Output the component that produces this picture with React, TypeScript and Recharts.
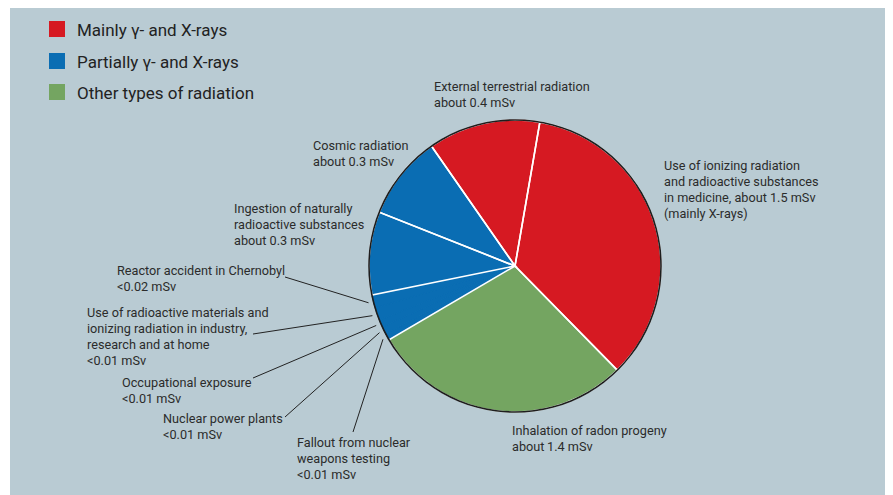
import React from "react";
import { PieChart, Pie, Cell } from "recharts";

// slices, clockwise from the top
const sources = [
    "medicine",
    "radon",
    "fallout",
    "nuclear",
    "occupational",
    "industry",
    "chernobyl",
    "ingestion",
    "cosmic",
    "terrestrial",
];
// share of the circle (%)
const shares = [34.9, 28.9, 0.75, 0.83, 0.83, 1.39, 1.44, 9.2, 9.3, 12.4];
// which legend group each slice belongs to
const groups = [0, 2, 1, 1, 1, 1, 1, 1, 1, 0];
const minor = [false, false, true, true, true, true, true, false, false, false];

const labelTexts = [
    ["Use of ionizing radiation", "and radioactive substances", "in medicine, about 1.5 mSv", "(mainly X-rays)"],
    ["Inhalation of radon progeny", "about\u20091.4 mSv"],
    ["Fallout from nuclear", "weapons testing", "<0.01 mSv"],
    ["Nuclear power plants", "<0.01 mSv"],
    ["Occupational exposure", "<0.01 mSv"],
    ["Use of radioactive materials and", "ionizing radiation in industry,", "research and at home", "<0.01 mSv"],
    ["Reactor accident in Chernobyl", "<0.02 mSv"],
    ["Ingestion of naturally", "radioactive substances", "about 0.3 mSv"],
    ["Cosmic radiation", "about 0.3 mSv"],
    ["External terrestrial radiation", "about 0.4 mSv"],
];

const legendItems = ["Mainly \u03b3- and X-rays", "Partially \u03b3- and X-rays", "Other types of radiation"];
const groupColors = ["#d61922", "#0a6db3", "#74a561"];

// label placement (text left x, first baseline y, optional leader start)
const labelSpots = [
    { x: 654, y: 162 },
    { x: 502, y: 427 },
    { x: 287, y: 439, lx: 343, ly: 424 },
    { x: 153, y: 415, lx: 275, ly: 409 },
    { x: 112, y: 379, lx: 243, ly: 370 },
    { x: 77, y: 309, lx: 243, ly: 326 },
    { x: 107, y: 267, lx: 275, ly: 269 },
    { x: 224, y: 205 },
    { x: 303, y: 142 },
    { x: 424, y: 83 },
];

const data = sources.map((name, i) => ({ name, value: shares[i] }));
const FONT = "Roboto, 'Noto Sans', sans-serif";
const RAD = Math.PI / 180;

function renderLabel(props: any) {
    const { cx, cy, midAngle, outerRadius, index } = props;
    const spot: any = labelSpots[index];
    const lines = labelTexts[index];
    let leader = null;
    if (spot.lx !== undefined) {
        const ex = cx + (outerRadius + 5) * Math.cos(-midAngle * RAD);
        const ey = cy + (outerRadius + 5) * Math.sin(-midAngle * RAD);
        leader = <line x1={spot.lx} y1={spot.ly} x2={ex} y2={ey} stroke="#222" strokeWidth={1} />;
    }
    return (
        <g key={"lbl" + index}>
            <text x={spot.x} y={spot.y} fill="#2b2b2b" fontSize={12.7} fontFamily={FONT} textAnchor="start">
                {lines.map((t, j) => (
                    <tspan key={j} x={spot.x} y={spot.y + j * 16}>{t}</tspan>
                ))}
            </text>
            {leader}
        </g>
    );
}

const LegendBox = () => (
    <div style={{ position: "absolute", top: 13, left: 39, fontFamily: FONT }}>
        {legendItems.map((t, i) => (
            <div key={t} style={{ display: "flex", alignItems: "center", height: 16, marginBottom: i < 2 ? 15.5 : 0 }}>
                <div style={{ width: 16, height: 16, background: groupColors[i], marginRight: 12 }} />
                <span style={{ fontSize: 17, color: "#222", lineHeight: "16px", position: "relative", top: 1, whiteSpace: "nowrap" }}>{t}</span>
            </div>
        ))}
    </div>
);

export default function App() {
    const cx = 505;
    const cy = 258;
    const r = 146;
    return (
        <div style={{ position: "relative", marginLeft: 2, width: 885, height: 487, background: "#b9cbd3", overflow: "hidden" }}>
            <PieChart width={885} height={487} margin={{ top: 0, right: 0, bottom: 0, left: 0 }}>
                <Pie
                    data={data}
                    dataKey="value"
                    cx={cx}
                    cy={cy}
                    outerRadius={r}
                    startAngle={80.2}
                    endAngle={-279.8}
                    isAnimationActive={false}
                    label={renderLabel}
                    labelLine={false}
                >
                    {data.map((d, i) => (
                        <Cell key={d.name} fill={groupColors[groups[i]]} stroke={groupColors[groups[i]]} strokeWidth={1} />
                    ))}
                </Pie>
                <Pie
                    data={data}
                    dataKey="value"
                    cx={cx}
                    cy={cy}
                    outerRadius={r}
                    startAngle={80.2}
                    endAngle={-279.8}
                    isAnimationActive={false}
                    legendType="none"
                >
                    {data.map((d, i) => (
                        <Cell key={d.name} fill="none" stroke={minor[i] ? "none" : "#ffffff"} strokeWidth={1.6} />
                    ))}
                </Pie>
                <Pie
                    data={[{ name: "rim", value: 1 }]}
                    dataKey="value"
                    cx={cx}
                    cy={cy}
                    innerRadius={r - 0.8}
                    outerRadius={r + 0.8}
                    startAngle={90}
                    endAngle={-270}
                    fill="#1e1e1e"
                    stroke="none"
                    isAnimationActive={false}
                    legendType="none"
                />
            </PieChart>
            <LegendBox />
        </div>
    );
}
